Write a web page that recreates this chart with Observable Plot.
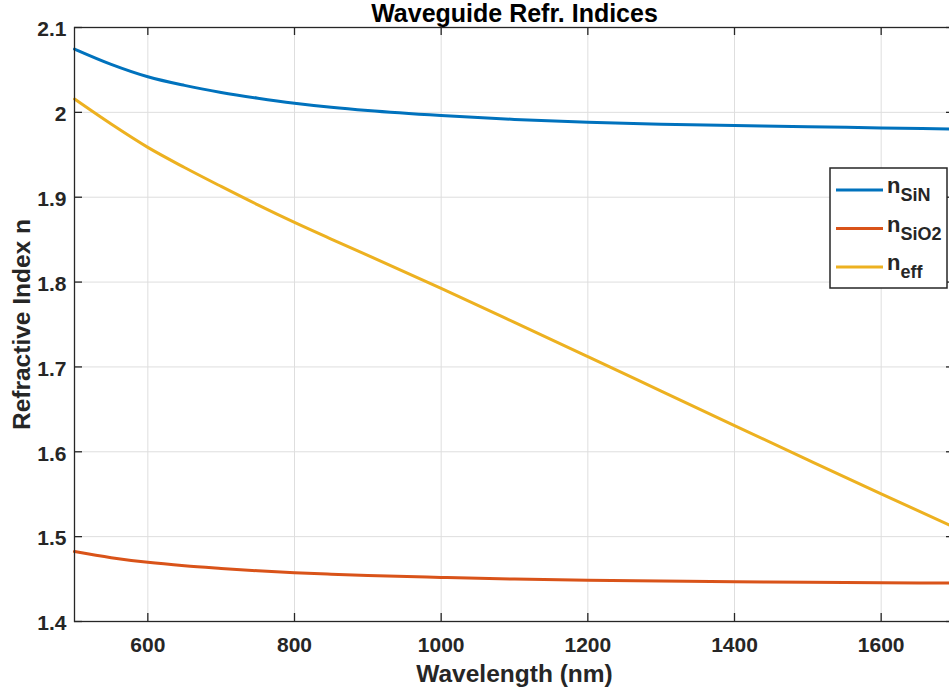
<!DOCTYPE html>
<html>
<head>
<meta charset="utf-8">
<script src="https://cdn.jsdelivr.net/npm/d3@7"></script>
<script src="https://cdn.jsdelivr.net/npm/@observablehq/plot@0.6"></script>
<style>
  html, body { margin: 0; padding: 0; background: #fff; }
  #wrap { position: relative; width: 949px; height: 697px; overflow: hidden; }
  #wrap svg { max-width: none !important; }
  #legend { position: absolute; left: 0; top: 0; }
</style>
</head>
<body>
<div id="wrap"></div>
<script>
const titleText = "Waveguide Refr. Indices";
const xLabel = "Wavelength (nm)";
const yLabel = "Refractive Index n";
const xTicks = [600, 800, 1000, 1200, 1400, 1600];
const yTicks = [1.4, 1.5, 1.6, 1.7, 1.8, 1.9, 2.0, 2.1];
const yTickLabels = ["1.4", "1.5", "1.6", "1.7", "1.8", "1.9", "2", "2.1"];

const wavelength = [500, 550, 600, 650, 700, 750, 800, 850, 900, 1000, 1100, 1200, 1300, 1400, 1500, 1600, 1700];
const nSiN  = [2.0746, 2.0566, 2.0420, 2.0318, 2.0235, 2.0167, 2.0108, 2.0060, 2.0021, 1.9962, 1.9917, 1.9883, 1.9861, 1.9845, 1.9830, 1.9817, 1.9803];
const nSiO2 = [1.4824, 1.4752, 1.4697, 1.4657, 1.4626, 1.4598, 1.4575, 1.4557, 1.4542, 1.4519, 1.4500, 1.4487, 1.4477, 1.4469, 1.4463, 1.4458, 1.4452];
const nEff  = [2.0157, 1.9862, 1.9587, 1.9350, 1.9127, 1.8910, 1.8703, 1.8507, 1.8315, 1.7925, 1.7525, 1.7121, 1.6715, 1.6309, 1.5905, 1.5504, 1.5110];

const seriesNames = ["SiN", "SiO2", "eff"];
const seriesColors = ["#0072BD", "#D95319", "#EDB120"];
const seriesValues = [nSiN, nSiO2, nEff];

const rows = [];
seriesNames.forEach((s, i) => {
  wavelength.forEach((w, j) => rows.push({series: s, w, n: seriesValues[i][j]}));
});

const font = "'Liberation Sans', Arial, Helvetica, sans-serif";
const ink = "#262626";
const W = 955, H = 697, mL = 74, mR = 1, mT = 27, mB = 76;
const fh = H - mT - mB, fw = W - mL - mR;

const chart = Plot.plot({
  width: W,
  height: H,
  marginLeft: mL,
  marginRight: mR,
  marginTop: mT,
  marginBottom: mB,
  style: {fontFamily: font, background: "#fff", overflow: "visible"},
  x: {domain: [500, 1700], axis: null},
  y: {domain: [1.4, 2.1], axis: null},
  color: {domain: seriesNames, range: seriesColors},
  marks: [
    Plot.gridX(xTicks, {stroke: "#dedede", strokeOpacity: 1, strokeWidth: 1}),
    Plot.gridY(yTicks, {stroke: "#dedede", strokeOpacity: 1, strokeWidth: 1}),
    Plot.line(rows, {x: "w", y: "n", z: "series", stroke: "series", strokeWidth: 3, curve: "monotone-x"}),
    Plot.frame({stroke: ink, strokeWidth: 1.3}),
    // inward ticks (MATLAB style)
    Plot.tickX(xTicks, {x: d => d, stroke: ink, strokeWidth: 1.3, insetTop: fh - 8}),
    Plot.tickX(xTicks, {x: d => d, stroke: ink, strokeWidth: 1.3, insetBottom: fh - 8}),
    Plot.tickY(yTicks, {y: d => d, stroke: ink, strokeWidth: 1.3, insetRight: fw - 8}),
    Plot.tickY(yTicks, {y: d => d, stroke: ink, strokeWidth: 1.3, insetLeft: fw - 8}),
    // tick labels
    Plot.text(xTicks, {x: d => d, text: d => String(d), frameAnchor: "bottom", dy: 24, lineAnchor: "middle",
      fontSize: 21, fontWeight: "bold", fill: ink}),
    Plot.text(yTicks, {y: d => d, text: (d, i) => yTickLabels[i], frameAnchor: "left", dx: -8, dy: 2,
      textAnchor: "end", lineAnchor: "middle", fontSize: 21, fontWeight: "bold", fill: ink}),
    // axis labels
    Plot.text([xLabel], {text: d => d, frameAnchor: "bottom", dy: 53, lineAnchor: "middle",
      fontSize: 24.5, fontWeight: "bold", fill: ink}),
    Plot.text([yLabel], {text: d => d, frameAnchor: "left", dx: -52, rotate: -90, textAnchor: "middle",
      lineAnchor: "middle", fontSize: 24.5, fontWeight: "bold", fill: ink}),
    // title
    Plot.text([titleText], {text: d => d, frameAnchor: "top", dy: -6, lineAnchor: "bottom",
      fontSize: 25, fontWeight: "bold", fill: "#000"})
  ]
});
const wrap = document.getElementById("wrap");
wrap.appendChild(chart);

// Legend overlay
const leg = d3.select(wrap).append("svg").attr("id", "legend")
  .attr("width", 949).attr("height", 697)
  .style("font-family", font);
const bx = 830, by = 168, bw = 117, bh = 120;
leg.append("rect").attr("x", bx).attr("y", by).attr("width", bw).attr("height", bh)
  .attr("fill", "#fff").attr("stroke", ink).attr("stroke-width", 1.5);
seriesNames.forEach((s, i) => {
  const yy = 190 + i * 38.5;
  leg.append("line").attr("x1", 836).attr("x2", 883).attr("y1", yy).attr("y2", yy)
    .attr("stroke", seriesColors[i]).attr("stroke-width", 3);
  const t = leg.append("text").attr("x", 887).attr("y", yy + 3)
    .attr("font-weight", "bold").attr("fill", ink).attr("font-size", 22);
  t.append("tspan").text("n");
  t.append("tspan").attr("dy", 8).attr("font-size", 18).text(s);
});
</script>
</body>
</html>
